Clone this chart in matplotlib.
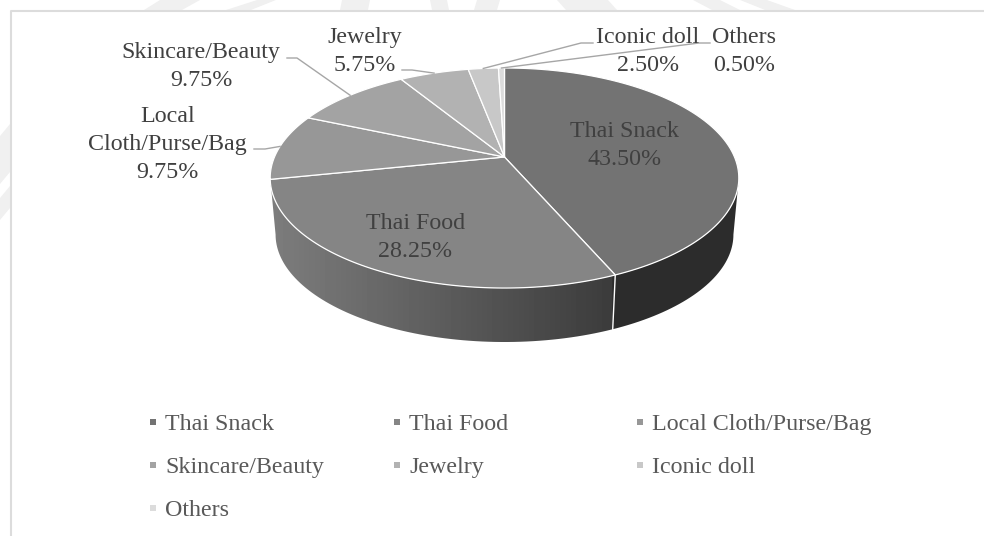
import numpy as np
import matplotlib
matplotlib.use('Agg')
import matplotlib.pyplot as plt
from matplotlib.patches import Polygon

plt.rcParams['font.family'] = ['Liberation Serif', 'DejaVu Serif']

# data
categories = ['Thai Snack', 'Thai Food', 'Local Cloth/Purse/Bag',
              'Skincare/Beauty', 'Jewelry', 'Iconic doll', 'Others']
shares = [43.50, 28.25, 9.75, 9.75, 5.75, 2.50, 0.50]
slice_colors = ['#737373', '#858585', '#979797', '#a3a3a3',
                '#b2b2b2', '#c8c8c8', '#dcdcdc']

# label text lines, anchor (centre x, first baseline y)
label_names = [['Thai Snack'], ['Thai Food'], ['Local', 'Cloth/Purse/Bag'],
               ['Skincare/Beauty'], ['Jewelry'], ['Iconic doll'], ['Others']]
label_xy = [(625, 137), (415.5, 229), (167.5, 122), (201, 58), (364.5, 43), (648, 43), (744, 43)]
# leader lines: start of the line next to the label, elbow, then rim point
leader_pts = {2: [(254, 149), (265, 149)],
              3: [(287, 58), (297, 58)],
              4: [(402, 70), (412, 70)],
              5: [(593, 43), (581, 43)],
              6: [(710, 43), (699, 43)]}

legend_x = [153, 397, 640]
legend_y = [422, 465, 508]

# faint seal showing behind the frame
seal_top = [(160, 200, 144, 182), (257, 276, 226, 251), (342, 370, 340, 368),
            (430, 447, 432, 449), (477, 500, 474, 497), (557, 608, 566, 617),
            (693, 720, 712, 740), (740, 767, 765, 795)]
seal_left = [(124, 172), (186, 208)]

# pie projection in pixels
CX, PIVOT_Y, A, B, K = 504.5, 157.0, 230.0, 106.0, 0.191
DEPTH_Y, DEPTH_S = 57.0, 0.977
FONT = 17.3


def rim(theta, bottom=False):
    """Screen position of a rim point; theta in degrees clockwise from the top."""
    t = np.radians(theta)
    den = 1 + K * np.cos(t)
    x = A * np.sin(t) / den
    y = -B * np.cos(t) / den
    if bottom:
        return CX + DEPTH_S * x, PIVOT_Y + DEPTH_Y + DEPTH_S * y
    return CX + x, PIVOT_Y + y


def arc(t0, t1, bottom=False, n=120):
    x, y = rim(np.linspace(t0, t1, n), bottom)
    return np.column_stack([x, y])


fig = plt.figure(figsize=(9.84, 5.36), dpi=100)
ax = fig.add_axes([0, 0, 1, 1])
ax.set_xlim(0, 984)
ax.set_ylim(536, 0)
ax.axis('off')

# seal remnants and chart frame
for x0, x1, x2, x3 in seal_top:
    ax.add_patch(Polygon([(x0, 0), (x1, 0), (x3, 10), (x2, 10)], fc='#f0f0f0', ec='none'))
for y0, y1 in seal_left:
    ax.add_patch(Polygon([(0, y0 + 12), (10, y0), (10, y1), (0, y1 + 12)], fc='#f0f0f0', ec='none'))
ax.plot([10.5, 10.5, 984], [536, 10.5, 10.5], color='#dcdcdc', lw=1.5, solid_capstyle='butt')

edges = np.cumsum([0] + shares) / 100 * 360

# side wall, dark on the right, lighter towards the left
T_R, T_L = 101.0, 259.0
seam = edges[1]
wall = Polygon(np.vstack([arc(T_R, T_L), arc(T_L, T_R, True)]), fc='none', ec='none')
ax.add_patch(wall)
grad = np.interp(np.linspace(270, 740, 470), [270, 612, 613, 740],
                 [0.49, 0.235, 0.175, 0.175])
im = ax.imshow(grad[None, :], extent=(270, 740, 345, 170), cmap='gray', vmin=0, vmax=1,
               aspect='auto', zorder=1)
im.set_clip_path(wall)
ax.set_xlim(0, 984)
ax.set_ylim(536, 0)
ax.plot(*np.column_stack([rim(seam), rim(seam, True)]), color='white', lw=1.0, zorder=2)

# top face
for i, color in enumerate(slice_colors):
    pts = np.vstack([[(CX, PIVOT_Y)], arc(edges[i], edges[i + 1])])
    ax.add_patch(Polygon(pts, closed=True, fc=color, ec='white', lw=0.9,
                         joinstyle='round', zorder=3))

# labels
for i, lines in enumerate(label_names):
    x, y = label_xy[i]
    for j, line in enumerate(lines + [f'{shares[i]:.2f}%']):
        ax.text(x, y + j * 28, line, ha='center', va='baseline', fontsize=FONT,
                color='#404040', zorder=5)

# leader lines
for i, pts in leader_pts.items():
    mid = (edges[i] + edges[i + 1]) / 2
    end = rim(mid)
    xs = [p[0] for p in pts] + [end[0]]
    ys = [p[1] for p in pts] + [end[1]]
    ax.plot(xs, ys, color='#a6a6a6', lw=1.0, zorder=4)

# legend, three columns filled row by row
for i, name in enumerate(categories):
    lx = legend_x[i % 3]
    ly = legend_y[i // 3]
    ax.plot(lx, ly, marker='s', ms=5, color=slice_colors[i], mew=0)
    ax.text(lx + 12, ly + 8, name, ha='left', va='baseline', fontsize=FONT, color='#595959')

fig.savefig('out.png', dpi=100)
